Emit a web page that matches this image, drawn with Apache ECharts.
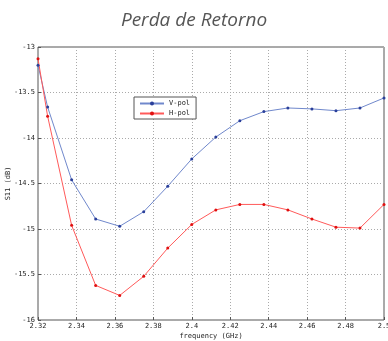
<!DOCTYPE html>
<html><head><meta charset="utf-8">
<script src="https://cdn.jsdelivr.net/npm/echarts@6/dist/echarts.min.js"></script>
<style>html,body{margin:0;padding:0;background:#fff}#c{width:388px;height:341px}</style>
</head><body><div id="c"></div>
<script>
const freq = [2.32, 2.325, 2.3375, 2.35, 2.3625, 2.375, 2.3875, 2.4, 2.4125, 2.425, 2.4375, 2.45, 2.4625, 2.475, 2.4875, 2.5];
const vPol = [-13.2, -13.66, -14.46, -14.89, -14.97, -14.81, -14.53, -14.23, -13.99, -13.81, -13.71, -13.67, -13.68, -13.70, -13.67, -13.56];
const hPol = [-13.13, -13.76, -14.96, -15.62, -15.73, -15.52, -15.21, -14.95, -14.79, -14.73, -14.73, -14.79, -14.89, -14.98, -14.99, -14.73];
const seriesNames = ['V-pol', 'H-pol'];
const titleText = 'Perda de Retorno';
const xName = 'frequency (GHz)';
const yName = 'S11 (dB)';

const chart = echarts.init(document.getElementById('c'), null, {renderer: 'canvas'});
const tickFont = {fontFamily: 'DejaVu Sans Mono', fontSize: 7, color: '#222'};
const dotted = {show: true, lineStyle: {type: [1, 2], color: '#aaa', width: 1}};
chart.setOption({
  animation: false,
  backgroundColor: '#fff',
  title: {text: titleText, left: 'center', top: 6,
    textStyle: {fontFamily: 'Open Sans', fontStyle: 'italic', fontWeight: 'normal', fontSize: 19, color: '#555'}},
  grid: {left: 38, right: 4, top: 47, bottom: 21, show: true, borderColor: '#555', borderWidth: 1,
    backgroundColor: '#fff', containLabel: false, outerBoundsMode: 'none'},
  legend: {
    data: seriesNames, orient: 'vertical', left: 134, top: 97, itemWidth: 24, itemHeight: 5, itemGap: 3,
    borderColor: '#555', borderWidth: 1, padding: [3, 6, 2, 5], backgroundColor: '#fff',
    textStyle: {fontFamily: 'DejaVu Sans Mono', fontSize: 7, color: '#222'}
  },
  xAxis: {
    type: 'value', min: 2.32, max: 2.5, interval: 0.02,
    name: xName, nameLocation: 'middle', nameGap: 13, nameMoveOverlap: false,
    nameTextStyle: {fontFamily: 'DejaVu Sans Mono', fontSize: 7, color: '#222'},
    axisLine: {show: false},
    axisTick: {show: true, inside: true, length: 3, lineStyle: {color: '#555'}},
    axisLabel: Object.assign({margin: 3, formatter: v => String(Math.round(v * 100) / 100)}, tickFont),
    splitLine: dotted
  },
  yAxis: {
    type: 'value', min: -16, max: -13, interval: 0.5,
    name: yName, nameLocation: 'middle', nameGap: 26, nameRotate: 90, nameMoveOverlap: false,
    nameTextStyle: {fontFamily: 'DejaVu Sans Mono', fontSize: 7, color: '#222'},
    axisLine: {show: false},
    axisTick: {show: true, inside: true, length: 3, lineStyle: {color: '#555'}},
    axisLabel: Object.assign({margin: 3, formatter: v => String(Math.round(v * 10) / 10)}, tickFont),
    splitLine: dotted
  },
  series: [
    {name: seriesNames[0], type: 'line', data: freq.map((f, i) => [f, vPol[i]]),
     symbol: 'circle', symbolSize: 3, showAllSymbol: true,
     lineStyle: {color: '#7088cc', width: 1}, itemStyle: {color: '#2a3f9a'}},
    {name: seriesNames[1], type: 'line', data: freq.map((f, i) => [f, hPol[i]]),
     symbol: 'circle', symbolSize: 3, showAllSymbol: true,
     lineStyle: {color: '#ff5a5a', width: 1}, itemStyle: {color: '#e01010'}}
  ]
});
</script></body></html>
